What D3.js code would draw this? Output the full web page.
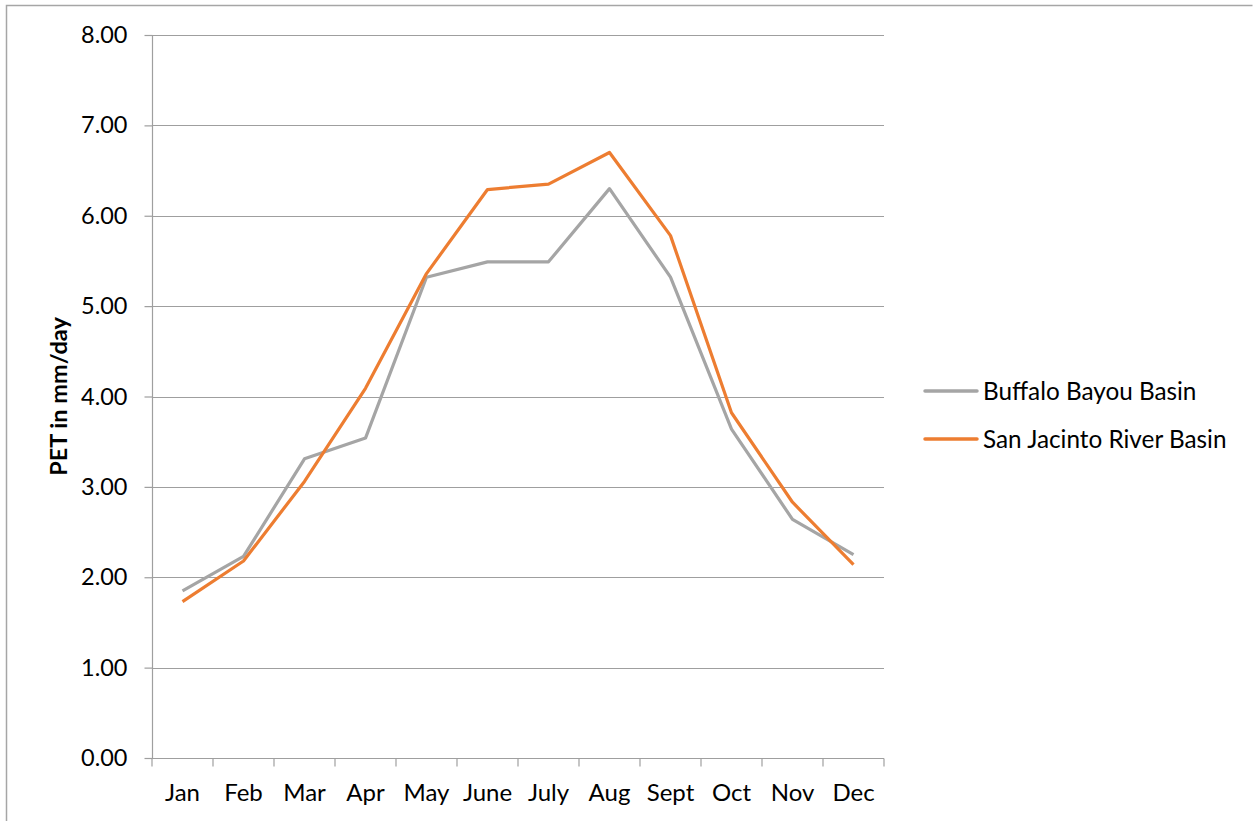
<!DOCTYPE html>
<html>
<head>
<meta charset="utf-8">
<script src="https://cdnjs.cloudflare.com/ajax/libs/d3/7.8.5/d3.min.js"></script>
<style>
  body { margin: 0; background: #fff; }
  svg { display: block; font-family: Lato, "Open Sans", sans-serif; }
</style>
</head>
<body>
<div id="chart"></div>
<script>
'use strict';

// month labels along the bottom
const months = ["Jan", "Feb", "Mar", "Apr", "May", "June", "July", "Aug", "Sept", "Oct", "Nov", "Dec"];

// PET values, mm/day
const buffaloBayou = [1.85, 2.23, 3.31, 3.54, 5.32, 5.49, 5.49, 6.30, 5.32, 3.64, 2.64, 2.25];
const sanJacinto   = [1.73, 2.18, 3.06, 4.09, 5.36, 6.29, 6.35, 6.70, 5.78, 3.82, 2.83, 2.14];

const seriesNames = ["Buffalo Bayou Basin", "San Jacinto River Basin"];
const seriesColors = ["#a5a5a5", "#ed7d31"];
const yTicks = [0, 1, 2, 3, 4, 5, 6, 7, 8];

const W = 1253, H = 821;
var margin = {top: 35, right: 369, bottom: 63, left: 152};
var width = W - margin.left - margin.right,
    height = H - margin.top - margin.bottom;

var svg = d3.select("#chart").append("svg")
  .attr("width", W)
  .attr("height", H);

// outer frame (only top and left edges show in the picture)
svg.append("path")
  .attr("d", "M6.5," + H + " V5.5 H" + (W - 0.5))
  .attr("fill", "none")
  .attr("stroke", "#a6a6a6")
  .attr("stroke-width", 1.5);

var g = svg.append("g")
  .attr("transform", "translate(" + margin.left + "," + margin.top + ")");

var x = d3.scaleBand().domain(months).range([0, width]);
var y = d3.scaleLinear().domain([0, 8]).range([height, 0]);

// gridlines
g.append("g")
  .selectAll("line")
  .data(yTicks.filter(d => d > 0))
  .join("line")
  .attr("x1", 0).attr("x2", width)
  .attr("y1", d => Math.round(y(d)) + 0.5)
  .attr("y2", d => Math.round(y(d)) + 0.5)
  .attr("stroke", "#9f9f9f")
  .attr("stroke-width", 1.2);

// y axis
var yAxis = g.append("g")
  .attr("transform", "translate(0.5,0)")
  .call(d3.axisLeft(y).tickValues(yTicks).tickSize(8).tickFormat(d3.format(".2f")));
yAxis.select(".domain").attr("stroke", "#9f9f9f").attr("stroke-width", 1.2).attr("d", "M0," + height + "V0");
yAxis.selectAll(".tick line").attr("stroke", "#9f9f9f").attr("stroke-width", 1.2);
yAxis.selectAll(".tick text")
  .attr("x", -25)
  .attr("font-size", 23.5)
  .attr("fill", "#000")
  .attr("font-family", "Lato, sans-serif");

// x axis: ticks sit on the band edges
var xAxisG = g.append("g")
  .attr("transform", "translate(0," + (Math.round(height) + 0.5) + ")");
xAxisG.append("line")
  .attr("x1", 0).attr("x2", width)
  .attr("stroke", "#9f9f9f").attr("stroke-width", 1.2);
xAxisG.selectAll("line.tk")
  .data(months.concat(["end"]))
  .join("line")
  .attr("class", "tk")
  .attr("x1", (d, i) => i * x.step())
  .attr("x2", (d, i) => i * x.step())
  .attr("y1", 0).attr("y2", 8)
  .attr("stroke", "#9f9f9f").attr("stroke-width", 1.2);
xAxisG.selectAll("text")
  .data(months)
  .join("text")
  .attr("x", d => x(d) + x.bandwidth() / 2)
  .attr("y", 42)
  .attr("text-anchor", "middle")
  .attr("font-size", 24)
  .attr("fill", "#000")
  .text(d => d);

// y axis title
svg.append("text")
  .attr("transform", "translate(67," + (margin.top + height / 2) + ") rotate(-90)")
  .attr("text-anchor", "middle")
  .attr("font-size", 23.5)
  .attr("font-weight", "bold")
  .attr("fill", "#000")
  .text("PET in mm/day");

// lines
var line = d3.line()
  .x((d, i) => x(months[i]) + x.bandwidth() / 2)
  .y(d => y(d));

[buffaloBayou, sanJacinto].forEach(function(vals, k) {
  g.append("path")
    .datum(vals)
    .attr("fill", "none")
    .attr("stroke", seriesColors[k])
    .attr("stroke-width", 3.2)
    .attr("stroke-linejoin", "round")
    .attr("d", line);
});

// legend
var legend = svg.append("g").attr("transform", "translate(925,391)");
seriesNames.forEach(function(name, k) {
  var row = legend.append("g").attr("transform", "translate(0," + (k * 48) + ")");
  row.append("line")
    .attr("x1", 0).attr("x2", 52)
    .attr("stroke", seriesColors[k])
    .attr("stroke-width", 3.5)
    .attr("stroke-linecap", "round");
  row.append("text")
    .attr("x", 58)
    .attr("dy", "0.35em")
    .attr("font-size", 24.3)
    .attr("fill", "#000")
    .text(name);
});
</script>
</body>
</html>
